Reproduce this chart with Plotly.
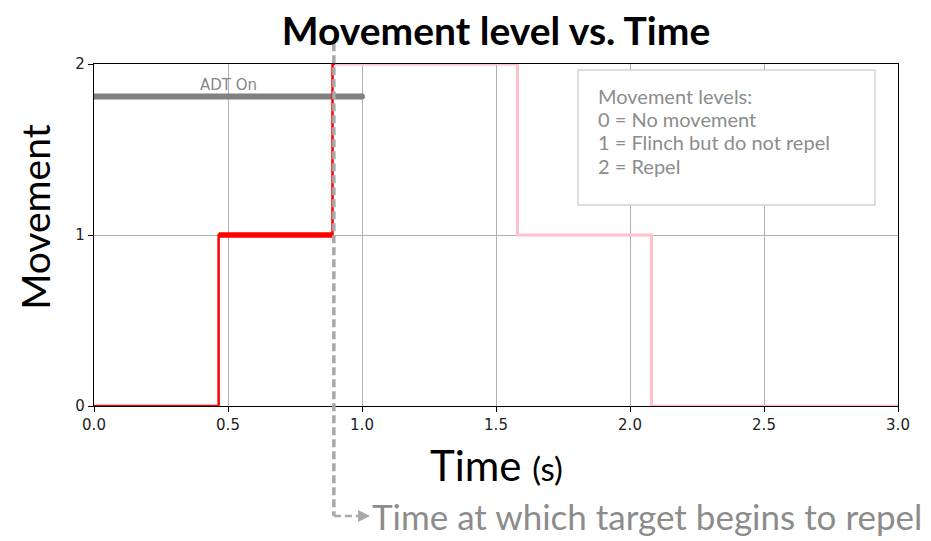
import plotly.graph_objects as go

# ---- data ----
red_times = [0.0, 0.465, 0.89, 0.90]
red_levels = [0, 1, 2, 2]
pink_times = [0.90, 1.58, 2.08, 3.0]
pink_levels = [2, 1, 0, 0]
adt_times = [0.0, 1.0]
adt_level = [1.81, 1.81]
repel_time = 0.895
x_ticks = [0.0, 0.5, 1.0, 1.5, 2.0, 2.5, 3.0]
x_tick_labels = ["0.0", "0.5", "1.0", "1.5", "2.0", "2.5", "3.0"]
y_ticks = [0, 1, 2]
legend_lines = ["Movement levels:", "0 = No movement", "1 = Flinch but do not repel", "2 = Repel"]
legend_line_y = [1.813, 1.678, 1.544, 1.404]

HUM = "Lato, 'Open Sans', sans-serif"
GRAY = "#a8a8a8"
PAGE_OFF = 8  # browser body margin

fig = go.Figure()

# ADT On bar
fig.add_trace(go.Scatter(x=adt_times, y=adt_level, mode="lines",
                         line=dict(color="#808080", width=6), hoverinfo="skip"))
fig.add_trace(go.Scatter(x=[adt_times[1]], y=[adt_level[1]], mode="markers",
                         marker=dict(color="#808080", size=6), hoverinfo="skip"))

# pink phase
fig.add_trace(go.Scatter(x=pink_times, y=pink_levels, mode="lines", line_shape="hv",
                         line=dict(color="#ffc0cb", width=3), hoverinfo="skip"))
# red phase
fig.add_trace(go.Scatter(x=red_times, y=red_levels, mode="lines", line_shape="hv",
                         line=dict(color="#ff0000", width=2.5), hoverinfo="skip"))
# thick flinch segment
fig.add_trace(go.Scatter(x=red_times[1:3], y=[red_levels[1]] * 2, mode="lines",
                         line=dict(color="#ff0000", width=5.5), hoverinfo="skip"))

# gray dashed repel marker: vertical then horizontal to arrow
y_top_paper = 1.061
y_bot_paper = -0.3216
fig.add_shape(type="line", xref="x", yref="paper", x0=repel_time, x1=repel_time,
              y0=y_top_paper, y1=y_bot_paper,
              line=dict(color=GRAY, width=3.5, dash="8px,4px"))
fig.add_shape(type="line", xref="x", yref="paper", x0=repel_time, x1=1.0,
              y0=y_bot_paper, y1=y_bot_paper,
              line=dict(color=GRAY, width=2.5, dash="7px,4px"))
fig.add_annotation(x=1.03, y=y_bot_paper, xref="x", yref="paper", text="",
                   showarrow=True, ax=-10, ay=0, arrowhead=2, arrowsize=1.2,
                   arrowwidth=2, arrowcolor=GRAY)
fig.add_annotation(x=1.03, y=y_bot_paper, xref="x", yref="paper",
                   text="Time at which target begins to repel", showarrow=False,
                   xanchor="left", yanchor="middle",
                   font=dict(family=HUM, size=35, color="#8c8c8c"))

# ADT On label
fig.add_annotation(x=0.5, y=1.88, xref="x", yref="y", text="ADT On", showarrow=False,
                   font=dict(family="DejaVu Sans", size=15, color="#888888"))

# legend box
fig.add_shape(type="rect", xref="x", yref="y", x0=1.806, x1=2.914, y0=1.175, y1=1.965,
              line=dict(color="#d4d4d4", width=1.5), fillcolor="white")
for txt, ly in zip(legend_lines, legend_line_y):
    fig.add_annotation(x=1.875, y=ly, xref="x", yref="y", text=txt, showarrow=False,
                       xanchor="left", yanchor="middle", align="left", borderpad=0,
                       font=dict(family=HUM, size=20, color="#8c8c8c"))

# titles
fig.add_annotation(x=0.5, y=-0.1725, xref="paper", yref="paper",
                   text="Time <span style='font-size:33px'>(s)</span>", showarrow=False,
                   xanchor="center", yanchor="middle",
                   font=dict(family=HUM, size=42, color="black"))
fig.add_annotation(x=-0.0734, y=0.553, xref="paper", yref="paper", text="Movement",
                   textangle=-90, showarrow=False, xanchor="center", yanchor="middle",
                   font=dict(family=HUM, size=39, color="black"))

fig.update_layout(
    width=931, height=541,
    margin=dict(l=94 - PAGE_OFF, r=33 + PAGE_OFF, t=64 - PAGE_OFF, b=135 + PAGE_OFF),
    paper_bgcolor="white", plot_bgcolor="white",
    showlegend=False,
    title=dict(text="<b>Movement level vs. Time</b>", x=0.5, xref="paper",
               y=1 - (31 - PAGE_OFF) / 541, yref="container", xanchor="center", yanchor="middle",
               font=dict(family=HUM, size=39, color="black")),
)
fig.update_xaxes(range=[0, 3], tickvals=x_ticks, ticktext=x_tick_labels,
                 showgrid=True, gridcolor="#b0b0b0", gridwidth=1,
                 showline=True, linecolor="black", linewidth=1.2, mirror=True,
                 ticks="outside", ticklen=5, tickcolor="black", zeroline=False,
                 tickfont=dict(family="DejaVu Sans", size=15, color="#222"))
fig.update_yaxes(range=[0, 2], tickvals=y_ticks,
                 showgrid=True, gridcolor="#b0b0b0", gridwidth=1,
                 showline=True, linecolor="black", linewidth=1.2, mirror=True,
                 ticks="outside", ticklen=5, tickcolor="black", zeroline=False,
                 tickfont=dict(family="DejaVu Sans", size=15, color="#222"))

fig.write_html("out.html")
